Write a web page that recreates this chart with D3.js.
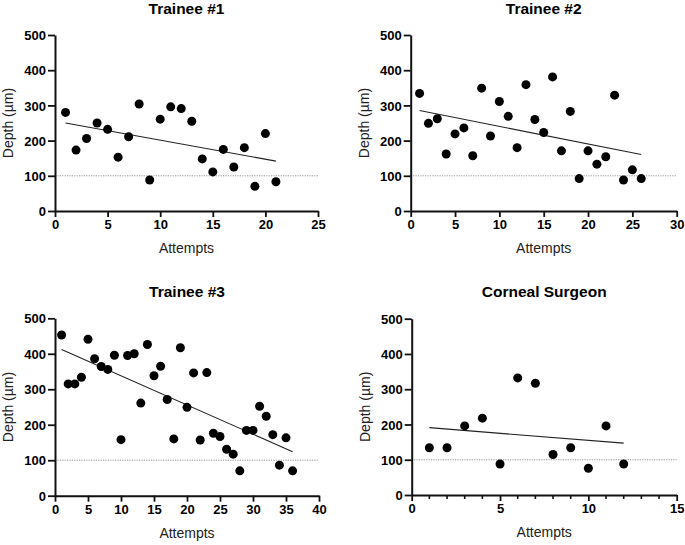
<!DOCTYPE html>
<html><head><meta charset="utf-8">
<script src="https://cdn.jsdelivr.net/npm/d3@7/dist/d3.min.js"></script>
<style>body{margin:0;background:#fff}svg{display:block}</style>
</head><body>
<svg id="c" width="685" height="545"></svg>
<script>
// ---- data ----
const titles = ["Trainee #1", "Trainee #2", "Trainee #3", "Corneal Surgeon"];
const trainee1 = [280,173,206,250,232,153,211,304,88,261,296,291,255,148,111,175,125,180,70,220,83];
const trainee2 = [334,249,262,162,219,236,157,349,213,311,269,180,359,260,223,381,171,283,92,171,133,154,329,88,117,92];
const trainee3 = [453,315,315,334,441,386,364,356,396,158,395,400,261,426,338,365,271,160,417,249,346,157,347,176,167,131,117,70,184,184,252,224,172,86,163,70];
const surgeon = [134,134,196,218,88,332,317,115,134,76,196,88];
const xMax = [25, 30, 40, 15];
const xTicks = [[0,5,10,15,20,25],[0,5,10,15,20,25,30],[0,5,10,15,20,25,30,35,40],[0,5,10,15]];
const yTicks = [0,100,200,300,400,500];
const threshold = 100;
const xLabel = "Attempts", yLabel = "Depth (µm)";

// ---- layout ----
const panels = [
  {x0:55, x1:318, y0:211, y1:35, tY:14},
  {x0:410.7, x1:676.7, y0:211, y1:35, tY:14},
  {x0:55, x1:319, y0:495.7, y1:318.3, tY:297},
  {x0:411.7, x1:676.7, y0:495, y1:318.7, tY:297}
];
const series = [trainee1, trainee2, trainee3, surgeon];
const svg = d3.select("#c");
const font = "Arial, 'Liberation Sans', Helvetica, sans-serif";

series.forEach((vals, i) => {
  const p = panels[i];
  const x = d3.scaleLinear().domain([0, xMax[i]]).range([p.x0, p.x1]);
  const y = d3.scaleLinear().domain([0, 500]).range([p.y0, p.y1]);
  const g = svg.append("g");
  const pts = vals.map((v, k) => ({a: k + 1, v}));

  // threshold dotted line
  g.append("line").attr("x1", x(0)).attr("x2", x(xMax[i]))
    .attr("y1", y(threshold)).attr("y2", y(threshold))
    .attr("stroke", "#777").attr("stroke-width", 0.8).attr("stroke-dasharray", "1.2,1.2");

  // minor ticks for last panel
  if (i === 3) {
    const minor = d3.range(0, xMax[i] + 1).filter(t => t % 5 !== 0);
    g.selectAll(".mn").data(minor).join("line")
      .attr("x1", d => x(d)).attr("x2", d => x(d))
      .attr("y1", p.y0).attr("y2", p.y0 + 4)
      .attr("stroke", "#111").attr("stroke-width", 1.6);
  }

  const xa = g.append("g").attr("transform", `translate(0,${p.y0})`)
    .call(d3.axisBottom(x).tickValues(xTicks[i]).tickSize(6).tickPadding(3).tickSizeOuter(0));
  const ya = g.append("g").attr("transform", `translate(${p.x0},0)`)
    .call(d3.axisLeft(y).tickValues(yTicks).tickSize(7).tickPadding(2).tickSizeOuter(0));
  [xa, ya].forEach(a => {
    a.select(".domain").attr("stroke", "#111").attr("stroke-width", 2);
    a.selectAll(".tick line").attr("stroke", "#111").attr("stroke-width", 1.8);
    a.selectAll(".tick text").attr("fill", "#000").attr("font-family", font)
      .attr("font-weight", "bold").attr("font-size", 13);
  });
  ya.selectAll(".tick text").attr("dy", "0.36em");

  // regression line
  const n = pts.length;
  const mx = d3.mean(pts, d => d.a), my = d3.mean(pts, d => d.v);
  const b = d3.sum(pts, d => (d.a - mx) * (d.v - my)) / d3.sum(pts, d => (d.a - mx) ** 2);
  const a0 = my - b * mx;
  g.append("line").attr("x1", x(1)).attr("x2", x(n))
    .attr("y1", y(a0 + b * 1)).attr("y2", y(a0 + b * n))
    .attr("stroke", "#222").attr("stroke-width", 1.1);

  g.selectAll(".dot").data(pts).join("circle")
    .attr("cx", d => x(d.a)).attr("cy", d => y(d.v)).attr("r", 4.5).attr("fill", "#000");

  // titles & labels
  g.append("text").attr("x", (p.x0 + p.x1) / 2).attr("y", p.tY)
    .attr("text-anchor", "middle").attr("font-family", font).attr("font-weight", "bold")
    .attr("font-size", 15.5).attr("fill", "#000").text(titles[i]);
  g.append("text").attr("x", (p.x0 + p.x1) / 2).attr("y", p.y0 + 42)
    .attr("text-anchor", "middle").attr("font-family", font)
    .attr("font-size", 14).attr("fill", "#222").text(xLabel);
  g.append("text").attr("transform", `translate(${p.x0 - 42},${(p.y0 + p.y1) / 2}) rotate(-90)`)
    .attr("text-anchor", "middle").attr("font-family", font)
    .attr("font-size", 14).attr("fill", "#222").text(yLabel);
});
</script>
</body></html>
